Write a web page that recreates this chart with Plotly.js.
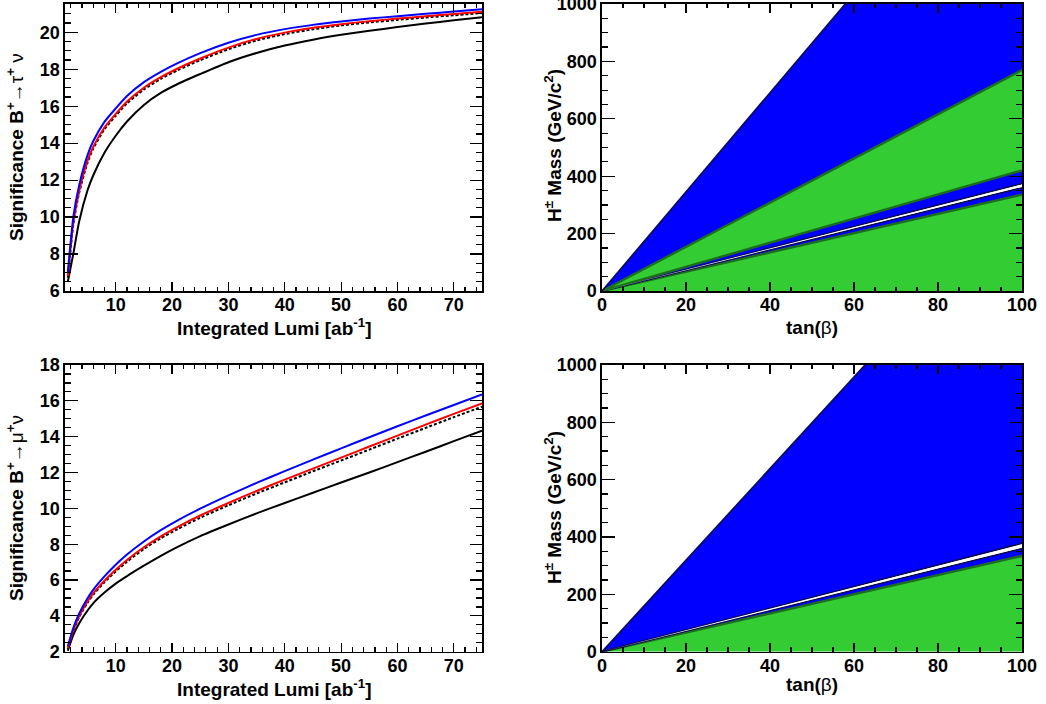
<!DOCTYPE html>
<html>
<head>
<meta charset="utf-8">
<script src="https://cdn.plot.ly/plotly-3.0.1.min.js"></script>
<style>
html,body{margin:0;padding:0;background:#ffffff;}
#plot{width:1046px;height:704px;}
</style>
</head>
<body>
<div id="plot"></div>
<script>
// ---------------- data ----------------
const lumi = [1.5, 2.5, 3.5, 5, 6, 8, 10, 12, 15, 18, 21, 25, 30, 35, 40, 45, 50, 55, 60, 65, 70, 75];

// B+ -> tau+ nu significance
const tauBlue   = [7.0, 10.05, 11.7, 13.35, 14.1, 15.15, 15.88, 16.55, 17.3, 17.86, 18.33, 18.87, 19.43, 19.86, 20.17, 20.4, 20.58, 20.74, 20.87, 21.0, 21.12, 21.24];
const tauRed    = [6.8, 9.75, 11.4, 13.05, 13.8, 14.85, 15.58, 16.25, 17.0, 17.57, 18.04, 18.58, 19.17, 19.64, 19.98, 20.24, 20.44, 20.6, 20.74, 20.87, 20.99, 21.11];
const tauDotted = [6.72, 9.65, 11.3, 12.95, 13.7, 14.75, 15.48, 16.15, 16.9, 17.48, 17.95, 18.49, 19.08, 19.56, 19.9, 20.16, 20.37, 20.53, 20.67, 20.8, 20.92, 21.04];
const tauBlack  = [6.5, 8.05, 9.75, 11.45, 12.25, 13.48, 14.4, 15.17, 16.07, 16.72, 17.2, 17.74, 18.38, 18.88, 19.28, 19.6, 19.86, 20.08, 20.28, 20.47, 20.65, 20.82];

// B+ -> mu+ nu significance
const muBlue   = [2.3, 3.35, 4.12, 4.98, 5.45, 6.2, 6.85, 7.42, 8.15, 8.78, 9.33, 9.98, 10.72, 11.42, 12.08, 12.72, 13.35, 13.97, 14.58, 15.18, 15.77, 16.36];
const muRed    = [2.2, 3.23, 3.98, 4.8, 5.25, 5.96, 6.57, 7.12, 7.83, 8.44, 8.97, 9.6, 10.3, 10.97, 11.6, 12.22, 12.83, 13.45, 14.06, 14.67, 15.27, 15.86];
const muDotted = [2.15, 3.18, 3.92, 4.74, 5.18, 5.88, 6.48, 7.02, 7.73, 8.33, 8.85, 9.48, 10.17, 10.83, 11.45, 12.07, 12.67, 13.28, 13.89, 14.49, 15.09, 15.67];
const muBlack  = [2.05, 2.95, 3.58, 4.3, 4.7, 5.3, 5.8, 6.22, 6.8, 7.35, 7.85, 8.45, 9.1, 9.72, 10.3, 10.87, 11.44, 12.0, 12.58, 13.16, 13.75, 14.33];

// Exclusion regions in (tan(beta), mH) plane: boundaries given as mH / tan(beta) slopes
const tanBetaRange = [0, 100];
const massRange = [0, 1000];
const tauRegionSlopes = [0, 3.36, 3.6, 3.74, 4.2, 7.7, 17.27];
const tauRegionKinds  = ['green', 'blue', 'white', 'blue', 'green', 'blue'];
const muRegionSlopes  = [0, 3.34, 3.6, 3.78, 15.97];
const muRegionKinds   = ['green', 'blue', 'white', 'blue'];

// titles
const lumiTitle = 'Integrated Lumi [ab<sup>-1</sup>]';
const tauTitle = 'Significance B<sup>+</sup>\u2192<span style="font-weight:normal">\u03c4</span><sup>+</sup> <span style="font-weight:normal">\u03bd</span>';
const muTitle  = 'Significance B<sup>+</sup>\u2192<span style="font-weight:normal">\u03bc</span><sup>+</sup><span style="font-weight:normal">\u03bd</span>';
const massTitle = 'H<sup>\u00b1</sup> Mass (GeV/c<sup>2</sup>)';
const tanbTitle = 'tan(<span style="font-weight:normal">\u03b2</span>)';

// ---------------- styling ----------------
const F = 'Liberation Sans, Arial, Helvetica, sans-serif';
const COL = {blue: '#0000ff', green: '#33cc33', white: '#ffffff'};
const EDGE_GREEN = '#1c6e1c', EDGE_NAVY = '#0a0a50';
const W = 1046, H = 704;

const traces = [];

function curve(x, y, color, dash, xa, ya) {
  traces.push({
    type: 'scatter', mode: 'lines', x: x, y: y, xaxis: xa, yaxis: ya,
    line: {color: color, width: 2, dash: dash, shape: 'spline', smoothing: 0.6},
    hoverinfo: 'skip', showlegend: false
  });
}
curve(lumi, tauBlack, '#000000', 'solid', 'x', 'y');
curve(lumi, tauDotted, '#000000', '3px,2px', 'x', 'y');
curve(lumi, tauRed, '#ff0000', 'solid', 'x', 'y');
curve(lumi, tauBlue, '#0000ff', 'solid', 'x', 'y');
curve(lumi, muBlack, '#000000', 'solid', 'x3', 'y3');
curve(lumi, muDotted, '#000000', '3px,2px', 'x3', 'y3');
curve(lumi, muRed, '#ff0000', 'solid', 'x3', 'y3');
curve(lumi, muBlue, '#0000ff', 'solid', 'x3', 'y3');

function regions(slopes, kinds, xa, ya) {
  const xm = tanBetaRange[1];
  const edges = [];
  for (let i = 1; i < slopes.length; i++) {
    const below = kinds[i - 1], above = kinds[i] || 'white';
    const isGreen = below === 'green' || above === 'green';
    edges.push({
      type: 'scatter', mode: 'lines', xaxis: xa, yaxis: ya,
      x: [0, xm], y: [0, slopes[i] * xm],
      line: {width: isGreen ? 2.4 : 1.6, color: isGreen ? EDGE_GREEN : EDGE_NAVY},
      hoverinfo: 'skip', showlegend: false
    });
  }
  for (let i = 0; i < kinds.length; i++) {
    const k0 = slopes[i], k1 = slopes[i + 1];
    traces.push({
      type: 'scatter', mode: 'lines', xaxis: xa, yaxis: ya,
      x: [0, xm, xm, 0], y: [0, k0 * xm, k1 * xm, 0],
      fill: 'toself', fillcolor: COL[kinds[i]], line: {width: 0, color: COL[kinds[i]]},
      hoverinfo: 'skip', showlegend: false
    });
  }
  edges.forEach(e => traces.push(e));
  // keep the thin white band clear on top of its navy borders
  for (let i = 0; i < kinds.length; i++) {
    if (kinds[i] !== 'white') continue;
    const k0 = slopes[i], k1 = slopes[i + 1], km = 0.5 * (k0 + k1);
    traces.push({
      type: 'scatter', mode: 'lines', xaxis: xa, yaxis: ya,
      x: [0, xm, xm, 0], y: [0, (km - 0.3 * (k1 - k0)) * xm, (km + 0.3 * (k1 - k0)) * xm, 0],
      fill: 'toself', fillcolor: COL.white, line: {width: 0, color: COL.white},
      hoverinfo: 'skip', showlegend: false
    });
  }
}
regions(tauRegionSlopes, tauRegionKinds, 'x2', 'y2');
regions(muRegionSlopes, muRegionKinds, 'x4', 'y4');

// ---------------- layout ----------------
const dom = {
  xl: [65 / W, 482 / W], xr: [602 / W, 1022 / W],
  yt: [1 - 291 / H, 1 - 4 / H], yb: [1 - 651.7 / H, 1 - 365 / H]
};
const tickFont = {family: F, size: 18, color: '#000000', weight: 'bold'};
function ax(o) {
  return Object.assign({
    showline: true, linecolor: '#000000', linewidth: 1.6, mirror: 'allticks',
    ticks: 'inside', tickcolor: '#000000', tickwidth: 1.2,
    showgrid: false, zeroline: false, tickfont: tickFont, fixedrange: true,
    layer: 'above traces', automargin: false, ticklabeloverflow: 'allow'
  }, o);
}
function minor(d, len) {
  return {dtick: d, ticklen: len, ticks: 'inside', tickcolor: '#000000', tickwidth: 1.2, showgrid: false};
}

const layout = {
  width: W, height: H,
  margin: {l: 0, r: 0, t: 0, b: 0},
  paper_bgcolor: '#ffffff', plot_bgcolor: '#ffffff',
  showlegend: false,
  font: {family: F, size: 18, color: '#000000', weight: 'bold'},
  xaxis:  ax({domain: dom.xl, anchor: 'y',  range: [1, 75], tick0: 0, dtick: 10, ticklen: 8.6, minor: minor(2, 4.3), ticklabelstandoff: -3}),
  yaxis:  ax({domain: dom.yt, anchor: 'x',  range: [6, 21.53], tick0: 0, dtick: 2, ticklen: 12.5, minor: minor(0.5, 6.3)}),
  xaxis2: ax({domain: dom.xr, anchor: 'y2', range: tanBetaRange, tick0: 0, dtick: 20, ticklen: 8.6, minor: minor(5, 4.3), ticklabelstandoff: -3}),
  yaxis2: ax({domain: dom.yt, anchor: 'x2', range: massRange, tick0: 0, dtick: 200, ticklen: 12.6, minor: minor(50, 6.3)}),
  xaxis3: ax({domain: dom.xl, anchor: 'y3', range: [1, 75], tick0: 0, dtick: 10, ticklen: 8.6, minor: minor(2, 4.3), ticklabelstandoff: -3}),
  yaxis3: ax({domain: dom.yb, anchor: 'x3', range: [2, 18], tick0: 0, dtick: 2, ticklen: 12.5, minor: minor(0.5, 6.3)}),
  xaxis4: ax({domain: dom.xr, anchor: 'y4', range: tanBetaRange, tick0: 0, dtick: 20, ticklen: 8.6, minor: minor(5, 4.3), ticklabelstandoff: -3}),
  yaxis4: ax({domain: dom.yb, anchor: 'x4', range: massRange, tick0: 0, dtick: 200, ticklen: 12.6, minor: minor(50, 6.3)}),
  annotations: []
};

function title(text, px, py, angle) {
  layout.annotations.push({
    text: text, xref: 'paper', yref: 'paper', x: px / W, y: 1 - py / H,
    xanchor: 'center', yanchor: 'middle', showarrow: false, textangle: angle,
    font: {family: F, size: 19, color: '#000000', weight: 'bold'}
  });
}
title(tauTitle, 15, 147, -90);
title(lumiTitle, 273.5, 327, 0);
title(massTitle, 553, 146, -90);
title(tanbTitle, 812, 327, 0);
title(muTitle, 15, 508, -90);
title(lumiTitle, 273.5, 688, 0);
title(massTitle, 553, 508, -90);
title(tanbTitle, 812, 684, 0);

Plotly.newPlot('plot', traces, layout, {staticPlot: true, displayModeBar: false});
</script>
</body>
</html>
